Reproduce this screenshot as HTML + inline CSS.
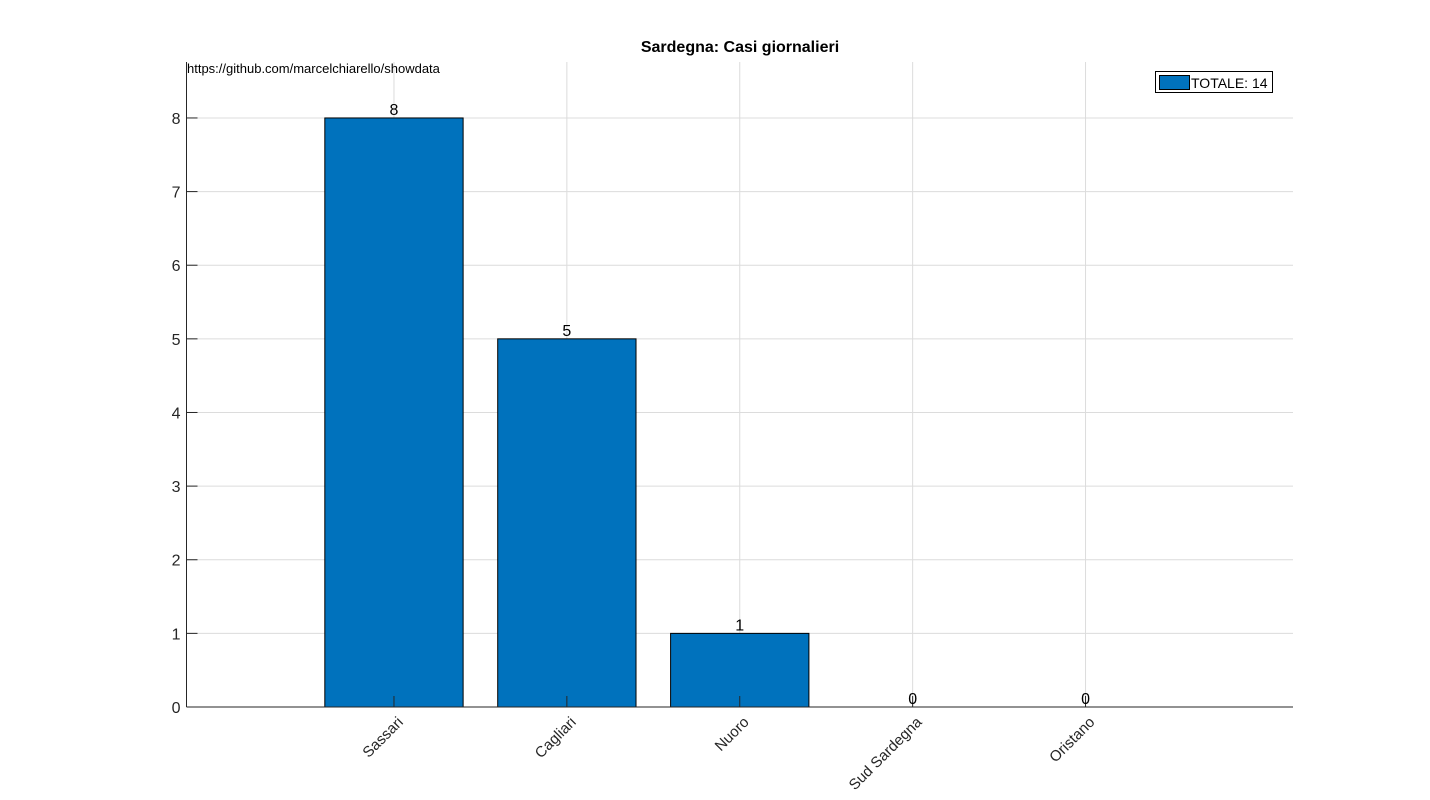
<!DOCTYPE html>
<html><head><meta charset="utf-8"><style>
html,body{margin:0;padding:0;background:#fff;width:1430px;height:800px;overflow:hidden}
text{font-family:"Liberation Sans",Arial,sans-serif}
</style></head><body>
<svg id="chart" width="1430" height="800" xmlns="http://www.w3.org/2000/svg">
<g id="grid"></g><g id="bars"></g><g id="axes"></g><g id="labels"></g>
<text x="740" y="52" text-anchor="middle" font-size="16" font-weight="bold" fill="#000">Sardegna: Casi giornalieri</text>
<text x="187" y="73" font-size="13" fill="#000">https://github.com/marcelchiarello/showdata</text>
<g>
<rect x="1155.5" y="71.5" width="117" height="21" fill="#fff" stroke="#000" stroke-width="1"/>
<rect x="1159.5" y="75.5" width="30" height="14" fill="#0072BD" stroke="#000" stroke-width="1"/>
<text x="1191" y="88" font-size="14" fill="#000">TOTALE: 14</text>
</g>
</svg>
<script>
const categories = ["Sassari","Cagliari","Nuoro","Sud Sardegna","Oristano"];
const values = [8,5,1,0,0];
const yTicks = [0,1,2,3,4,5,6,7,8];
const NS="http://www.w3.org/2000/svg";
const L=186.5,R=1293,B=707,T=62,yMax=8.76,xMin=-0.2,xMax=6.2;
const xs=i=>L+(i+1-xMin)/(xMax-xMin)*(R-L);
const ys=v=>B-v/yMax*(B-T);
function mk(tag,attrs,parent){const e=document.createElementNS(NS,tag);for(const k in attrs)e.setAttribute(k,attrs[k]);document.getElementById(parent).appendChild(e);return e;}
yTicks.forEach(t=>{
 if(t>0){const g=mk('line',{x1:L,x2:R,y1:ys(t),y2:ys(t),stroke:'#dcdcdc','stroke-width':1},'grid');
 
 }
 const tk=mk('line',{x1:L,x2:L+11,y1:ys(t),y2:ys(t),stroke:'#262626','stroke-width':1},'axes');
 
 
 const tx=mk('text',{x:L-6,y:ys(t)+6,'text-anchor':'end','font-size':16,fill:'#262626'},'labels');
 tx.textContent=t;
 
 
});
categories.forEach((c,i)=>{
 const cx=xs(i);
 const g=mk('line',{x1:cx,x2:cx,y1:T,y2:B,stroke:'#dcdcdc','stroke-width':1},'grid');
 
 
 const w=0.8/(xMax-xMin)*(R-L);
 const y0=ys(values[i]);
 const b=mk('rect',{x:cx-w/2,y:y0,width:w,height:B-y0,fill:'#0072BD',stroke:'#000','stroke-width':1},'bars');
 
 
 const tk=mk('line',{x1:cx,x2:cx,y1:B,y2:B-11,stroke:'#262626','stroke-width':1},'axes');
 
 
 const v=mk('text',{x:cx,y:y0-3,'text-anchor':'middle','font-size':16,fill:'#000'},'labels');
 v.textContent=values[i];
 
 
 const lx=cx+10,ly=723;
 const tl=mk('text',{x:lx,y:ly,'text-anchor':'end','font-size':15,fill:'#262626',transform:`rotate(-45 ${lx} ${ly})`},'labels');
 tl.textContent=c;
 
 
});
const ax=mk('line',{x1:L,x2:L,y1:T,y2:B,stroke:'#262626','stroke-width':1},'axes');


const bx=mk('line',{x1:L,x2:R,y1:B,y2:B,stroke:'#262626','stroke-width':1},'axes');


</script>
</body></html>
